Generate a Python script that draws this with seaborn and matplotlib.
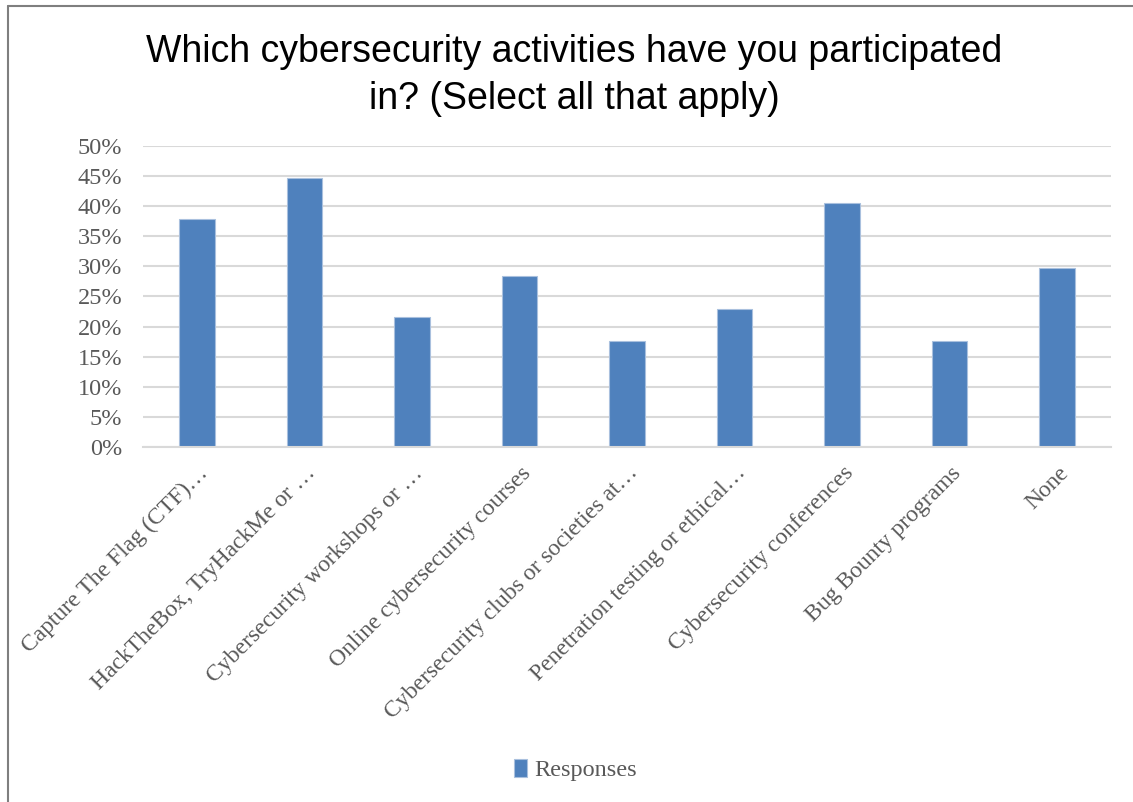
import matplotlib
matplotlib.use("Agg")
import matplotlib.pyplot as plt
import matplotlib.transforms as mtransforms
from matplotlib.ticker import PercentFormatter
import seaborn as sns
import pandas as pd

categories = [
    "Capture The Flag (CTF)…",
    "HackTheBox, TryHackMe or …",
    "Cybersecurity workshops or …",
    "Online cybersecurity courses",
    "Cybersecurity clubs or societies at…",
    "Penetration testing or ethical…",
    "Cybersecurity conferences",
    "Bug Bounty programs",
    "None",
]
responses = [37.8, 44.6, 21.6, 28.4, 17.6, 23.0, 40.5, 17.6, 29.7]
yticks = [0, 5, 10, 15, 20, 25, 30, 35, 40, 45, 50]

title = "Which cybersecurity activities have you participated\nin? (Select all that apply)"
series_name = "Responses"

df = pd.DataFrame({"activity": categories, "share": responses})

sns.set_theme(style="white")
serif = ["Liberation Serif", "DejaVu Serif"]
sans = ["Liberation Sans", "DejaVu Sans"]
plt.rcParams["font.family"] = serif

fig = plt.figure(figsize=(11.33, 8.02), dpi=100)
ax = fig.add_axes([0.1262, 0.4426, 0.8544, 0.3754])

sns.barplot(data=df, x="activity", y="share", color="#4F81BD", saturation=1,
            width=0.33, edgecolor="#A9C0DE", linewidth=0.8, label=series_name, ax=ax)

ax.set_ylim(0, 50)
ax.set_xlim(-0.5, len(categories) - 0.5)
ax.set_yticks(yticks)
ax.yaxis.set_major_formatter(PercentFormatter(decimals=0))
ax.grid(axis="y", color="#D9D9D9", linewidth=1.5)
ax.set_axisbelow(True)
for side in ["top", "right", "left"]:
    ax.spines[side].set_visible(False)
ax.spines["bottom"].set_color("#D9D9D9")
ax.spines["bottom"].set_linewidth(1.5)
ax.set_xlabel("")
ax.set_ylabel("")
ax.tick_params(axis="y", length=0, labelsize=17.5, colors="#595959", pad=15)
ax.tick_params(axis="x", length=0, labelsize=17, colors="#595959")

ax.set_xticks(range(len(categories)))
ax.set_xticklabels(categories, rotation=45, ha="right", va="center",
                   rotation_mode="anchor")
offset = mtransforms.ScaledTranslation(0.08, -0.18, fig.dpi_scale_trans)
for lbl in ax.get_xticklabels():
    lbl.set_transform(lbl.get_transform() + offset)

# two-line title; baseline of the last line is the anchor
fig.text(0.5066, 0.864, title, ha="center", va="baseline", fontsize=27,
         family=sans, color="#000000", linespacing=1.38)

leg = ax.legend(loc="center", bbox_to_anchor=(0.508, 0.04),
                bbox_transform=fig.transFigure, frameon=False,
                fontsize=17.5, handlelength=0.55, handleheight=0.75,
                handletextpad=0.3)
for t in leg.get_texts():
    t.set_color("#595959")

# chart frame
fig.add_artist(plt.Line2D([0.0068, 1.0], [0.9925, 0.9925], transform=fig.transFigure,
                          color="#7F7F7F", linewidth=1.5))
fig.add_artist(plt.Line2D([0.0068, 0.0068], [0.0, 0.9925], transform=fig.transFigure,
                          color="#7F7F7F", linewidth=1.5))

fig.savefig("out.png", dpi=100, facecolor="white")
